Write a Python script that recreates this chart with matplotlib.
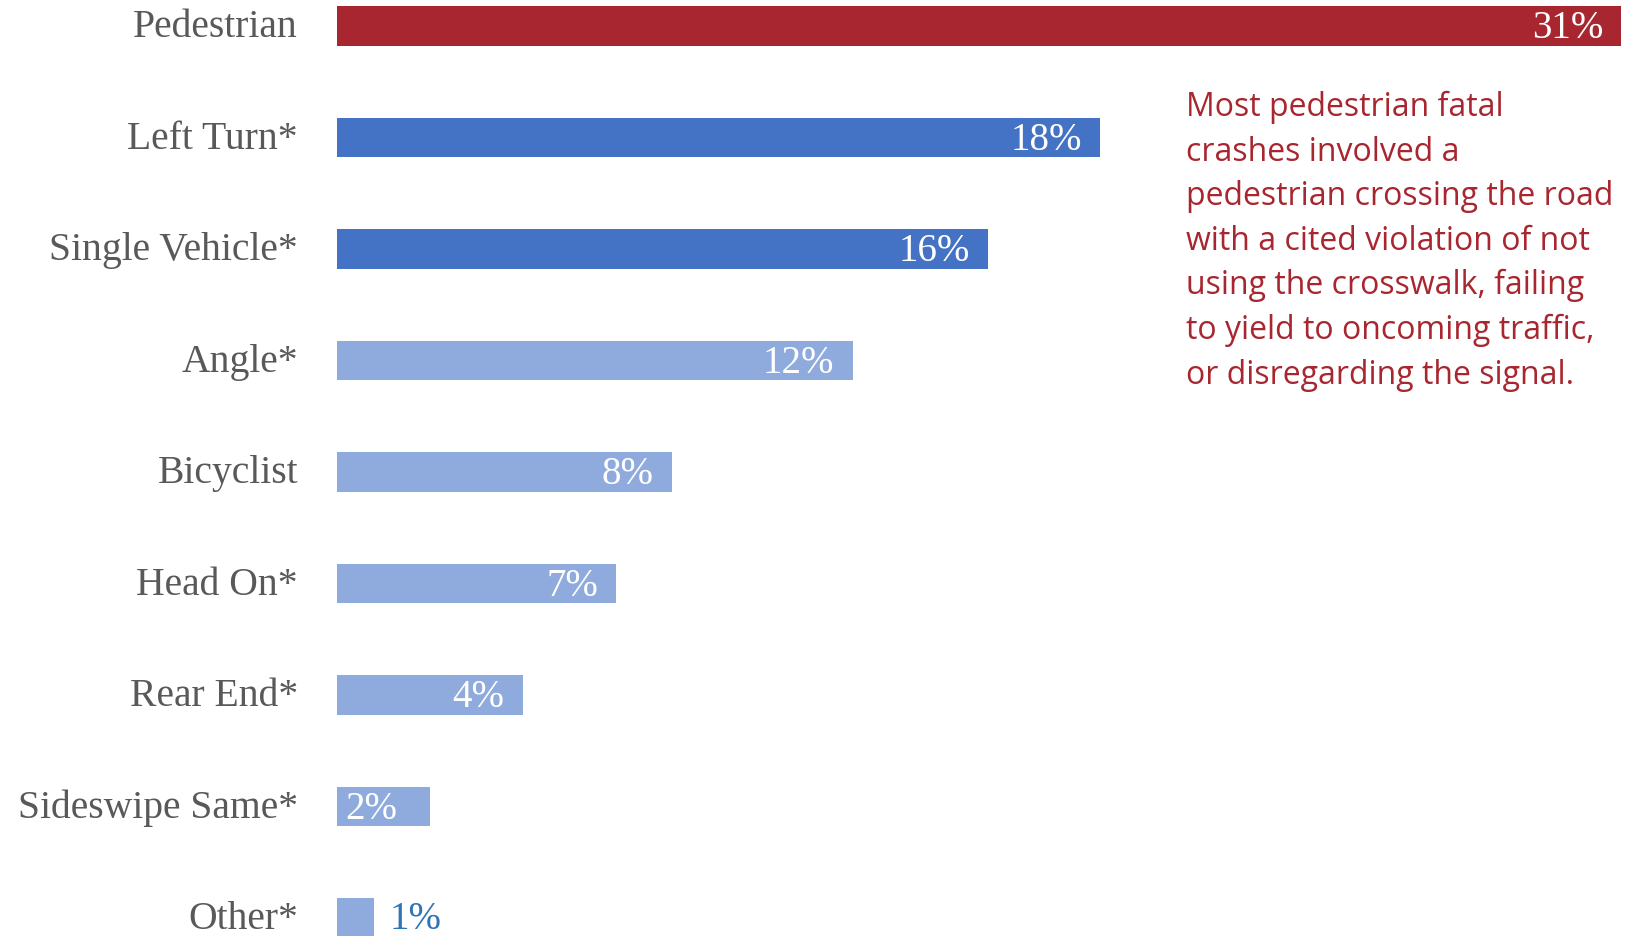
import matplotlib
import matplotlib.pyplot as plt
import numpy as np

matplotlib.use('Agg')

# share of fatal crashes by crash type
crash_types = ["Pedestrian", "Left Turn*", "Single Vehicle*", "Angle*", "Bicyclist",
               "Head On*", "Rear End*", "Sideswipe Same*", "Other*"]
shares = [31.0, 18.42, 15.72, 12.45, 8.08, 6.74, 4.48, 2.25, 0.89]

note_lines = ["Most pedestrian fatal",
              "crashes involved a",
              "pedestrian crossing the road",
              "with a cited violation of not",
              "using the crosswalk, failing",
              "to yield to oncoming traffic,",
              "or disregarding the signal."]

RED = "#A8262F"
DARK_BLUE = "#4472C4"
LIGHT_BLUE = "#8FAADC"
GREY = "#595959"
SERIF = ["Liberation Serif", "DejaVu Serif"]

W, H = 1634, 936
fig = plt.figure(figsize=(W / 100, H / 100), dpi=100)
ax = fig.add_axes([337 / W, 0, 1284 / W, 1])

colors = [RED, DARK_BLUE, DARK_BLUE] + [LIGHT_BLUE] * (len(shares) - 3)
y_pos = np.arange(len(crash_types))
ax.barh(y_pos, shares, height=0.356, color=colors)

ax.set_xlim(0, 31)
ax.set_ylim(8.161, -0.233)
ax.set_xticks([])
ax.set_yticks([])
for spine in ax.spines.values():
    spine.set_visible(False)

# category names to the left of the bars
for i, name in enumerate(crash_types):
    ax.annotate(name, xy=(0, i), xytext=(-28, -1.2), textcoords="offset points",
                ha="right", va="center", color=GREY, fontsize=28.5, family=SERIF,
                annotation_clip=False)

# value labels
for i, v in enumerate(shares):
    text = f"{v:.0f}%"
    if v < 1.5:
        ax.annotate(text, xy=(v, i), xytext=(11, -1), textcoords="offset points",
                    ha="left", va="center", color="#2E75B6", fontsize=28, family=SERIF)
    elif v < 3:
        ax.annotate(text, xy=(0, i), xytext=(6, -2), textcoords="offset points",
                    ha="left", va="center", color="white", fontsize=28, family=SERIF)
    else:
        ax.annotate(text, xy=(v, i), xytext=(-13, -2), textcoords="offset points",
                    ha="right", va="center", color="white", fontsize=28, family=SERIF)

# callout text next to the chart
for k, line in enumerate(note_lines):
    fig.text(1186 / W, 1 - (116 + 44.6 * k) / H, line, ha="left", va="baseline",
             color=RED, fontsize=23, family=["Open Sans", "DejaVu Sans"])

fig.savefig("out.png", dpi=100)
